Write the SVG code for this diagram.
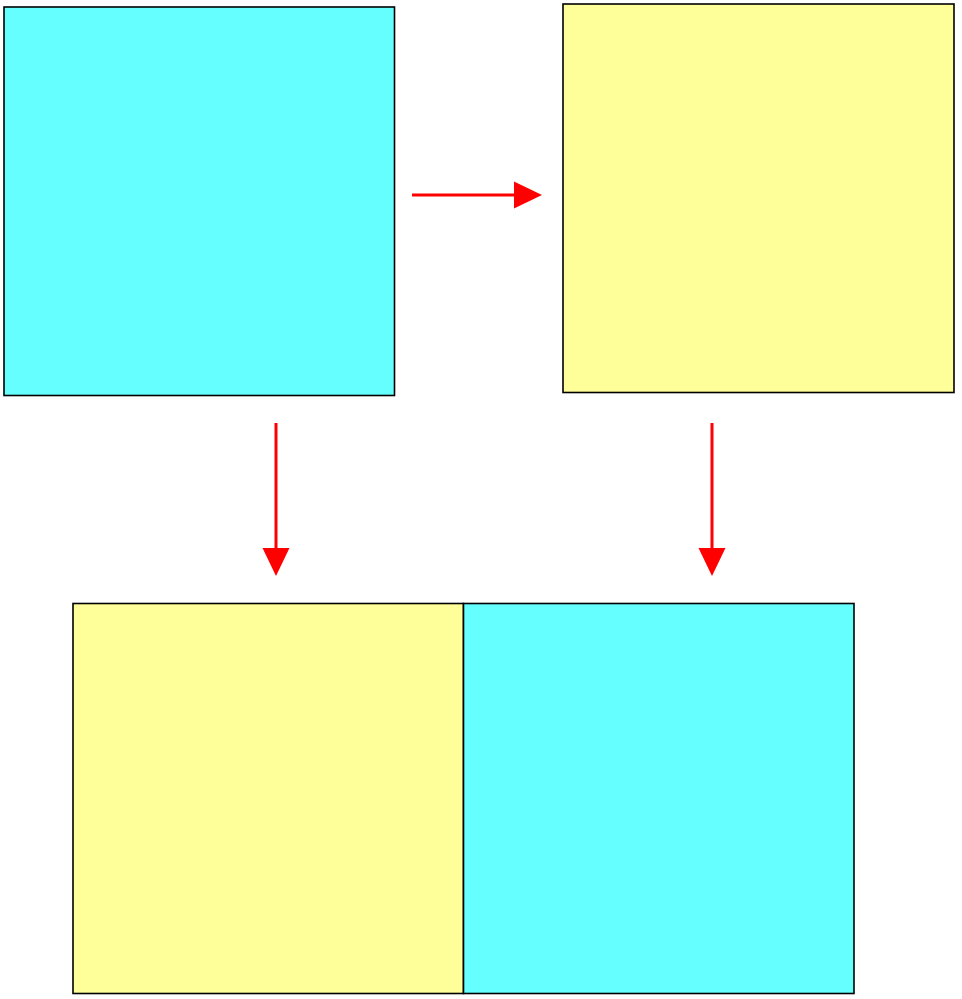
<svg xmlns="http://www.w3.org/2000/svg" width="962" height="999" viewBox="0 0 962 999">
<style>
.box{stroke:#000;stroke-width:1.6}
.cyan{fill:#66ffff}
.yellow{fill:#ffff99}
.conn{stroke:#ff0000;stroke-width:3;fill:none}
</style>
<defs>
<marker id="ah" markerUnits="userSpaceOnUse" markerWidth="28" markerHeight="28" refX="0" refY="13" orient="auto" viewBox="0 0 27 26">
<path d="M0,0 L27,13 L0,26 Z" fill="#ff0000"/>
</marker>
</defs>
<rect width="962" height="999" fill="#fff"/>
<g id="node-tl"><rect class="box cyan" x="4" y="7" width="390.5" height="388.5"/></g>
<g id="node-tr"><rect class="box yellow" x="563" y="4" width="391" height="388.5"/></g>
<g id="node-bl"><rect class="box yellow" x="73" y="603.5" width="390.5" height="390"/></g>
<g id="node-br"><rect class="box cyan" x="463.5" y="603.5" width="390.5" height="390"/></g>
<g id="connectors">
<line class="conn" x1="412" y1="195" x2="514" y2="195" marker-end="url(#ah)"/>
<line class="conn" x1="276" y1="423" x2="276" y2="548" marker-end="url(#ah)"/>
<line class="conn" x1="712" y1="423" x2="712" y2="548" marker-end="url(#ah)"/>
</g>
</svg>
